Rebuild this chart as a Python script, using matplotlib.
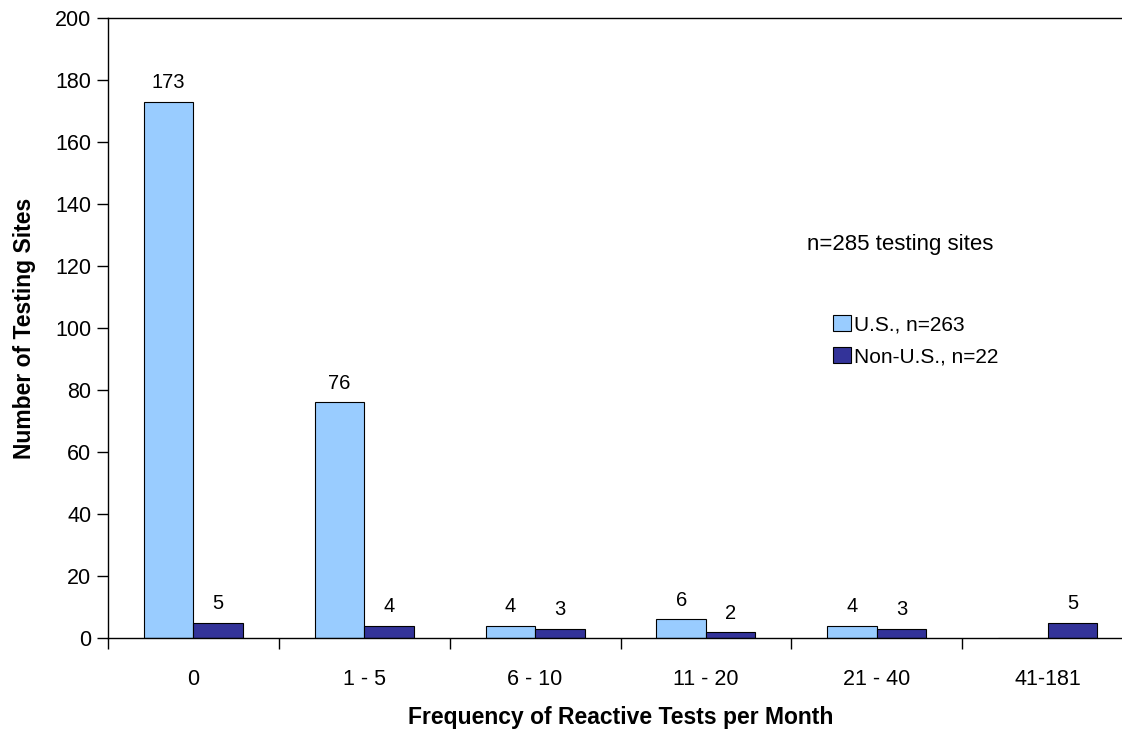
import matplotlib
matplotlib.use("Agg")
import matplotlib.pyplot as plt
import numpy as np

categories = ["0", "1 - 5", "6 - 10", "11 - 20", "21 - 40", "41-181"]
us_values = [173, 76, 4, 6, 4, 0]
non_us_values = [5, 4, 3, 2, 3, 5]
yticks = [0, 20, 40, 60, 80, 100, 120, 140, 160, 180, 200]

plt.rcParams['font.family'] = ['Liberation Sans', 'DejaVu Sans']

fig = plt.figure(figsize=(11.22, 7.31), dpi=100)
# axes extends slightly past the right edge of the figure, as in the reference
ax = fig.add_axes([0.0963, 0.1272, 0.9135, 0.8482])

x = np.arange(len(categories))
w = 0.29
ax.bar(x - w/2, us_values, w, color="#99CCFF", edgecolor="black", linewidth=0.8,
       label="U.S., n=263")
ax.bar(x + w/2, non_us_values, w, color="#333399", edgecolor="black", linewidth=0.8,
       label="Non-U.S., n=22")

for xi, v in zip(x, us_values):
    if v > 0:
        ax.text(xi - w/2, v + 3, str(v), ha="center", va="bottom", fontsize=14.5)
for xi, v in zip(x, non_us_values):
    ax.text(xi + w/2, v + 3, str(v), ha="center", va="bottom", fontsize=14.5)

ax.set_xlim(-0.5, len(categories) - 0.5)
ax.set_ylim(0, 200)
ax.set_yticks(yticks)
ax.tick_params(axis='y', labelsize=15.5, direction='out', length=8, width=1, pad=4)
ax.set_xticks(x)
ax.set_xticklabels(categories)
ax.tick_params(axis='x', which='major', length=0, labelsize=15.5, pad=22)
ax.set_xticks(np.arange(-0.5, len(categories) + 0.5, 1), minor=True)
ax.tick_params(axis='x', which='minor', direction='out', length=8, width=1)

ax.spines['right'].set_visible(False)
for s in ['left', 'top', 'bottom']:
    ax.spines[s].set_linewidth(1)
    ax.spines[s].set_color('black')

ax.set_xlabel("Frequency of Reactive Tests per Month", fontsize=16.5, fontweight='bold', labelpad=12)
ax.set_ylabel("Number of Testing Sites", fontsize=16.5, fontweight='bold', labelpad=14)

ax.text(4.14, 127, "n=285 testing sites", ha="center", va="center", fontsize=16)

ax.legend(loc="upper left", bbox_to_anchor=(0.699, 0.535), frameon=False, fontsize=15,
          handlelength=0.85, handleheight=0.85, handletextpad=0.15, labelspacing=0.6,
          borderaxespad=0)

fig.savefig("out.png", dpi=100)
